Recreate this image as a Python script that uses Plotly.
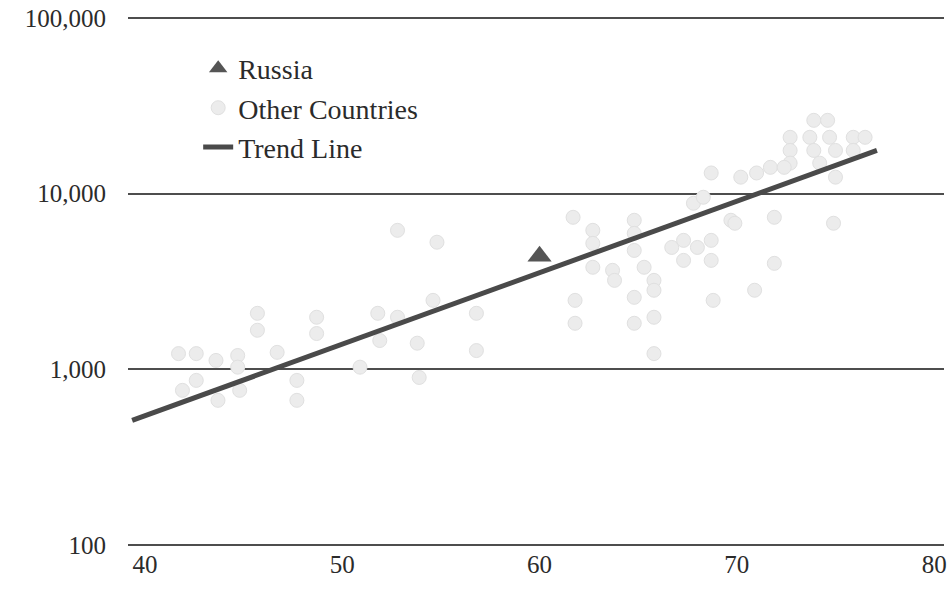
import plotly.graph_objects as go

# Life expectancy (years) vs. GDP per capita (log scale)
other_life = [
    41.7, 42.6, 43.6, 44.7, 44.7, 42.6, 43.7, 44.8, 41.9, 45.7, 45.7, 46.7, 47.7, 47.7,
    48.7, 48.7, 50.9, 51.8, 51.9, 52.8, 53.8, 53.9, 52.8, 54.8, 54.6, 56.8, 56.8,
    61.7, 62.7, 62.7, 62.7, 63.7, 63.8, 64.8, 64.8, 64.8, 65.3, 65.8, 65.8, 66.7,
    67.3, 67.3, 68.0, 68.7, 68.7, 67.8, 68.3, 69.7, 61.8, 61.8, 64.8, 64.8, 65.8,
    68.8, 65.8, 70.9,
    73.9, 74.6, 72.7, 73.7, 74.7, 75.9, 76.5, 72.7, 73.9, 75.0, 75.9, 72.7, 74.2,
    75.0, 68.7, 70.2, 71.0, 71.7, 72.4, 69.9, 71.9, 74.9, 71.9,
]
other_gdp = [
    1230, 1230, 1125, 1200, 1030, 866, 667, 760, 760, 2085, 1670, 1250, 866, 667,
    1980, 1600, 1030, 2085, 1460, 1980, 1410, 900, 6180, 5290, 2470, 2085, 1280,
    7330, 6180, 5210, 3810, 3660, 3210, 7050, 5940, 4750, 3810, 3210, 2820, 4940,
    5420, 4170, 4940, 5420, 4170, 8810, 9530, 7050, 2470, 1830, 2570, 1830, 1980,
    2470, 1230, 2820,
    26100, 26100, 20900, 20900, 20900, 20900, 20900, 17600, 17600, 17600, 17600, 14900, 14900,
    12400, 13100, 12400, 13100, 14100, 14100, 6780, 7330, 6780, 4010,
]

russia_life = [60.0]
russia_gdp = [4400]

trend_life = [39.35, 77.1]
trend_gdp = [513, 17600]

x_ticks = [40, 50, 60, 70, 80]
y_ticks = [100, 1000, 10000, 100000]
y_tick_text = ["100", "1,000", "10,000", "100,000"]

FONT = "Liberation Serif"
INK = "#2b2b2b"

fig = go.Figure()

fig.add_trace(go.Scatter(
    x=other_life, y=other_gdp, mode="markers", name="Other Countries",
    legendrank=2,
    marker=dict(symbol="circle", size=14, color="#ececec",
                line=dict(color="#e0e0e0", width=1)),
))

fig.add_trace(go.Scatter(
    x=trend_life, y=trend_gdp, mode="lines", name="Trend Line",
    legendrank=3,
    line=dict(color="#4a4a4a", width=5),
))

fig.add_trace(go.Scatter(
    x=russia_life, y=russia_gdp, mode="markers", name="Russia",
    legendrank=1,
    marker=dict(symbol="triangle-up", size=21, color="#555555"),
))

fig.update_layout(
    width=947, height=594,
    margin=dict(l=128, r=0, t=16, b=47),
    paper_bgcolor="white", plot_bgcolor="white",
    font=dict(family=FONT, color=INK),
    showlegend=True,
    legend=dict(
        x=0.086, y=0.948, xanchor="left", yanchor="top",
        font=dict(family=FONT, size=28, color=INK),
        traceorder="normal", itemwidth=30, tracegroupgap=0,
        bgcolor="rgba(0,0,0,0)",
    ),
    xaxis=dict(
        range=[39.14, 80.5], tickvals=x_ticks,
        showgrid=False, zeroline=False, showline=False,
        ticks="outside", ticklen=1, tickcolor="rgba(0,0,0,0)",
        ticklabelstandoff=-6,
        tickfont=dict(family=FONT, size=25, color=INK),
        ticklabeloverflow="allow",
    ),
    yaxis=dict(
        type="log", range=[1.99, 5.01],
        tickvals=y_ticks, ticktext=y_tick_text,
        showgrid=True, gridcolor="#4d4d4d", gridwidth=1.5,
        zeroline=False, showline=False,
        ticks="outside", ticklen=16, tickcolor="rgba(0,0,0,0)",
        tickfont=dict(family=FONT, size=25, color=INK),
    ),
)

fig.write_html("out.html")
